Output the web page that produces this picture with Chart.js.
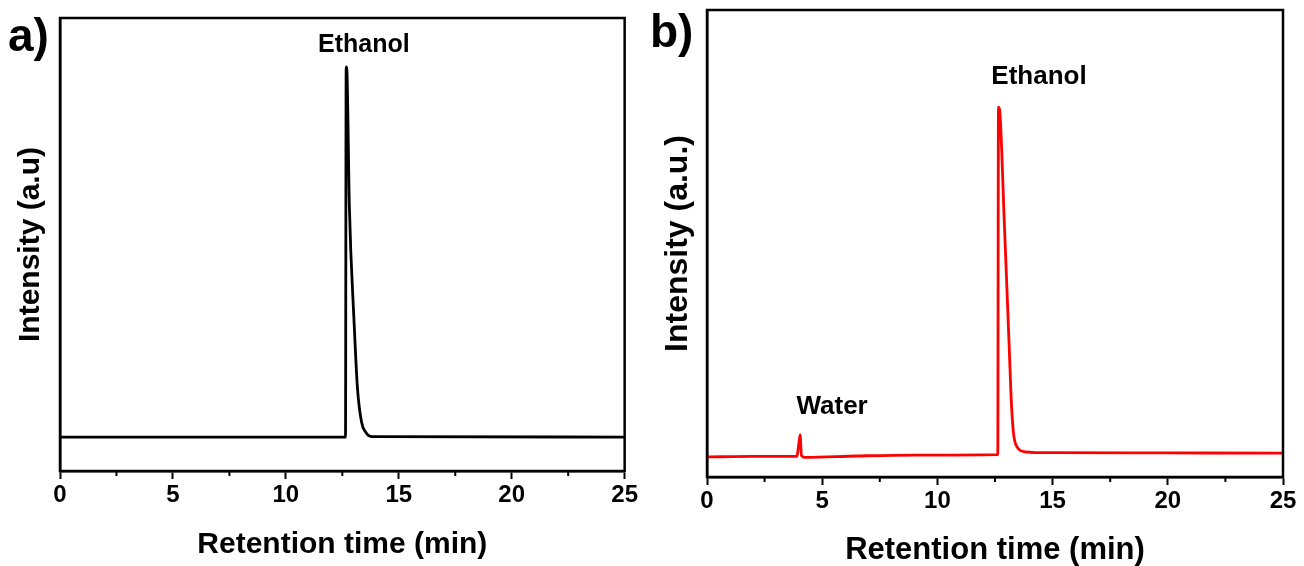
<!DOCTYPE html>
<html>
<head>
<meta charset="utf-8">
<script src="https://cdn.jsdelivr.net/npm/chart.js@4.4.1/dist/chart.umd.min.js"></script>
<style>
  body { margin: 0; background: #fff; width: 1304px; height: 566px; overflow: hidden; position: relative; font-family: 'Liberation Sans', Arial, sans-serif; }
  .panel { position: absolute; top: 0; height: 566px; }
  #panelA { left: 0; width: 640px; }
  #panelB { left: 640px; width: 664px; }
  .tag { position: absolute; font-weight: bold; font-size: 46px; line-height: 46px; color: #000; }
</style>
</head>
<body>
<div class="panel" id="panelA"><canvas id="chartA"></canvas></div>
<div class="panel" id="panelB"><canvas id="chartB"></canvas></div>
<div class="tag" style="left:8px;top:12px">a)</div>
<div class="tag" style="left:650px;top:8px">b)</div>
<script>
// Chromatogram a) - pure ethanol
const timeA = [0, 12.64, 12.67, 12.70, 12.81, 13.02, 13.17, 13.35, 13.53, 13.79, 25];
const intensityA = [7.5, 7.5, 89.2, 88.6, 58.7, 32.9, 18.3, 10.8, 8.6, 7.6, 7.5];

// Chromatogram b) - water + ethanol
const timeB = [0, 2, 3.9, 3.97, 4.04, 4.1, 4.25, 6.5, 9, 12.62, 12.65, 12.70, 12.9, 13.1, 13.2, 13.3, 13.45, 13.8, 15, 20, 25];
const intensityB = [4.3, 4.4, 4.4, 6.5, 9.0, 4.6, 4.2, 4.5, 4.7, 4.8, 79.2, 78.6, 55, 30, 17, 9.5, 6.5, 5.4, 5.2, 5.15, 5.1];

const tickLabels = ['0', '5', '10', '15', '20', '25'];
const minorTickValues = [2.5, 7.5, 12.5, 17.5, 22.5];

const peaksA = [{ text: 'Ethanol', x: 13.45, y: 94.0 }];
const peaksB = [{ text: 'Ethanol', x: 14.41, y: 85.7 }, { text: 'Water', x: 5.43, y: 15.0 }];

Chart.defaults.font.family = "'Liberation Sans', Arial, sans-serif";
Chart.defaults.color = '#000';

const framePlugin = {
  id: 'frame',
  afterDraw(chart) {
    const { ctx, chartArea: a } = chart;
    ctx.save();
    ctx.strokeStyle = '#000';
    ctx.lineWidth = 2.5;
    ctx.strokeRect(a.left, a.top, a.right - a.left, a.bottom - a.top);
    ctx.restore();
  }
};

const minorTicks = {
  id: 'minorTicks',
  afterDraw(chart) {
    const { ctx, chartArea } = chart;
    const xs = chart.scales.x;
    ctx.save();
    ctx.strokeStyle = '#000';
    ctx.lineWidth = 2;
    ctx.beginPath();
    minorTickValues.forEach(v => {
      const px = xs.getPixelForValue(v);
      ctx.moveTo(px, chartArea.bottom);
      ctx.lineTo(px, chartArea.bottom + 5);
    });
    ctx.stroke();
    ctx.restore();
  }
};

const peakLabels = {
  id: 'peakLabels',
  afterDraw(chart, args, opts) {
    const { ctx } = chart;
    ctx.save();
    ctx.fillStyle = '#000';
    ctx.font = 'bold ' + opts.size + "px 'Liberation Sans', Arial, sans-serif";
    ctx.textAlign = 'center';
    ctx.textBaseline = 'middle';
    opts.items.forEach(p => {
      ctx.fillText(p.text, chart.scales.x.getPixelForValue(p.x), chart.scales.y.getPixelForValue(p.y));
    });
    ctx.restore();
  }
};

function makeChart(id, times, values, color, cfg) {
  return new Chart(document.getElementById(id), {
    type: 'line',
    data: {
      datasets: [{
        data: times.map((t, i) => ({ x: t, y: values[i] })),
        borderColor: color,
        borderWidth: 2.8,
        pointRadius: 0,
        cubicInterpolationMode: 'monotone',
        fill: false
      }]
    },
    options: {
      responsive: true,
      maintainAspectRatio: false,
      animation: false,
      layout: { padding: { top: cfg.top, right: cfg.right, left: 0, bottom: 0 } },
      plugins: {
        legend: { display: false },
        tooltip: { enabled: false },
        peakLabels: { items: cfg.peaks, size: cfg.labelSize }
      },
      scales: {
        x: {
          type: 'linear',
          min: 0,
          max: 25,
          ticks: {
            stepSize: 5,
            maxRotation: 0,
            padding: 2,
            color: '#000',
            font: { size: cfg.tickSize, weight: 'bold' },
            callback: (v, i) => tickLabels[i]
          },
          grid: { display: true, drawOnChartArea: false, tickLength: 8, tickWidth: 2, tickColor: '#000' },
          border: { display: true, color: '#000', width: 2.5 },
          title: {
            display: true,
            text: 'Retention time (min)',
            color: '#000',
            font: { size: cfg.xTitleSize, weight: 'bold', lineHeight: 1 },
            padding: { top: 0, bottom: cfg.xTitlePad }
          },
          afterFit: s => { s.height = cfg.xHeight; }
        },
        y: {
          min: 0,
          max: 100,
          ticks: { display: false },
          grid: { display: false },
          border: { display: true, color: '#000', width: 2.5 },
          title: {
            display: true,
            text: cfg.yTitle,
            color: '#000',
            font: { size: cfg.yTitleSize, weight: 'bold', lineHeight: 1 },
            padding: { top: cfg.yTitlePad, bottom: 0 }
          },
          afterFit: s => { s.width = cfg.yWidth; }
        }
      }
    },
    plugins: [framePlugin, minorTicks, peakLabels]
  });
}

makeChart('chartA', timeA, intensityA, '#000000', {
  top: 18, right: 15, yWidth: 60, xHeight: 95,
  tickSize: 24, xTitleSize: 30, xTitlePad: 6,
  yTitle: 'Intensity (a.u)', yTitleSize: 30, yTitlePad: 16,
  peaks: peaksA, labelSize: 25
});

makeChart('chartB', timeB, intensityB, '#ff0000', {
  top: 10, right: 21, yWidth: 67, xHeight: 89,
  tickSize: 24, xTitleSize: 31, xTitlePad: 0,
  yTitle: 'Intensity (a.u.)', yTitleSize: 32, yTitlePad: 22,
  peaks: peaksB, labelSize: 26
});
</script>
</body>
</html>
